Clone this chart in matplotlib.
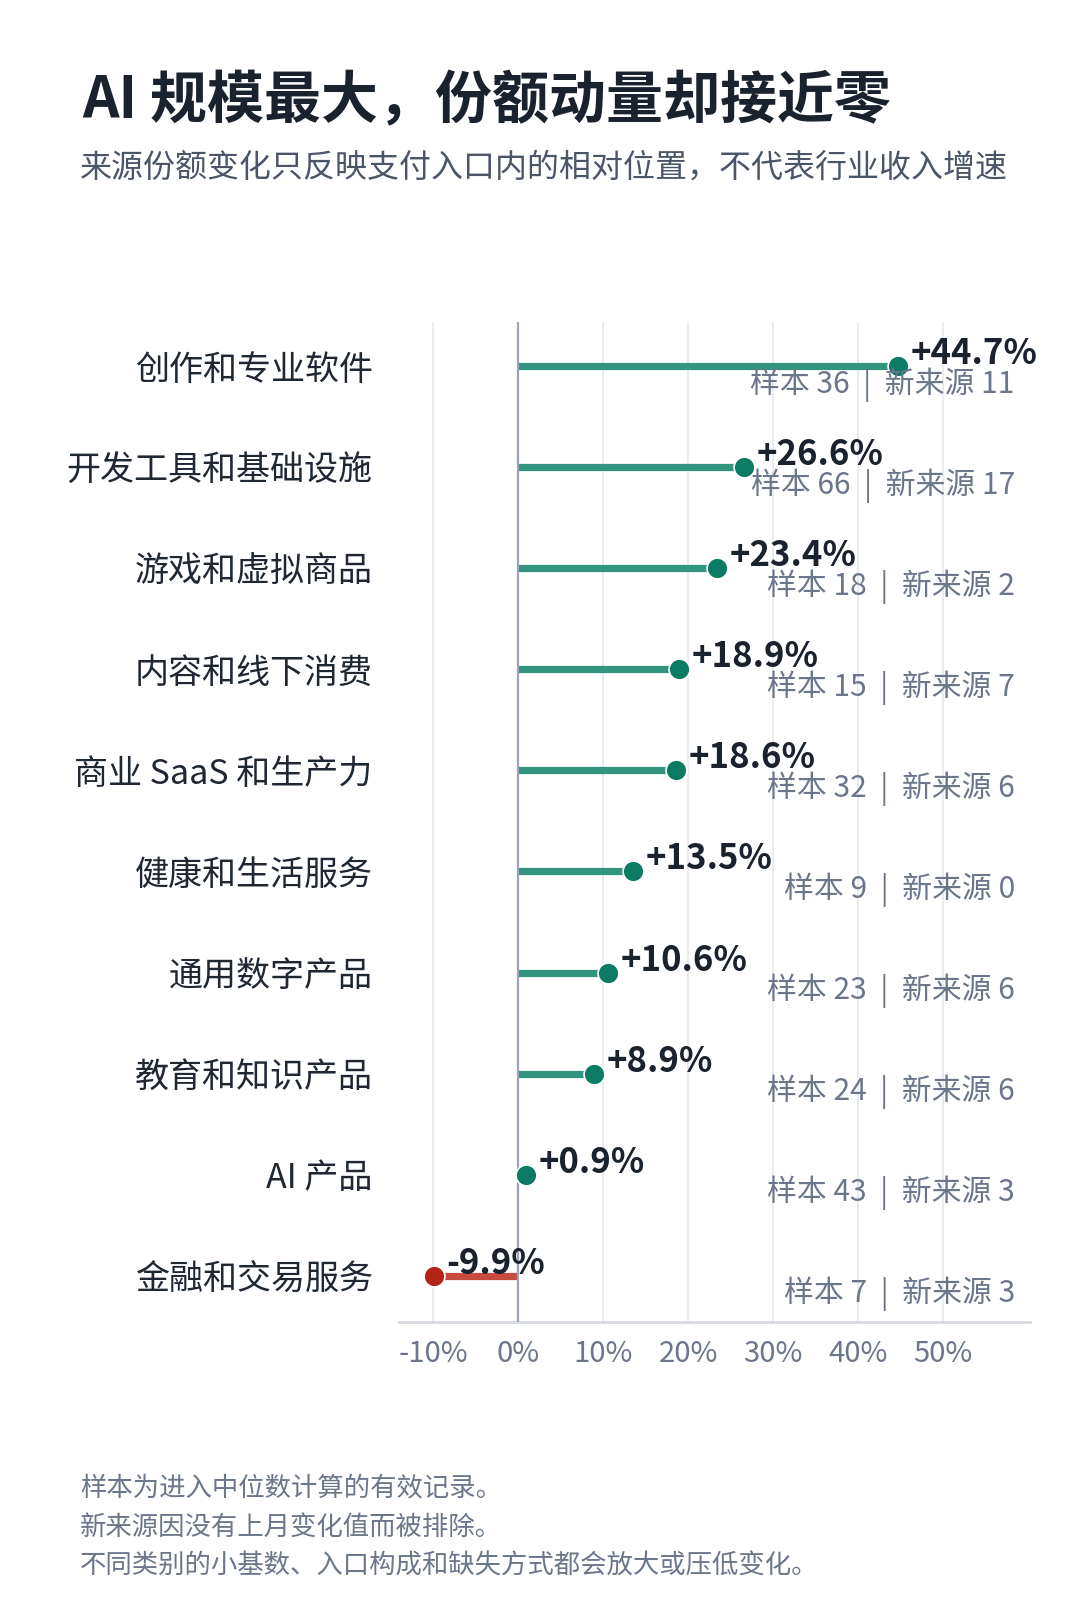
import numpy as np
import matplotlib
matplotlib.use("Agg")
import matplotlib.pyplot as plt
import matplotlib.transforms as mtransforms

plt.rcParams['font.family'] = ['Noto Sans CJK SC', 'DejaVu Sans']

# data ##################################################################
categories = ["创作和专业软件", "开发工具和基础设施", "游戏和虚拟商品", "内容和线下消费",
              "商业 SaaS 和生产力", "健康和生活服务", "通用数字产品", "教育和知识产品",
              "AI 产品", "金融和交易服务"]
share_change = [44.7, 26.6, 23.4, 18.9, 18.6, 13.5, 10.6, 8.9, 0.9, -9.9]
samples = [36, 66, 18, 15, 32, 9, 23, 24, 43, 7]
new_sources = [11, 17, 2, 7, 6, 0, 6, 6, 3, 3]
x_ticks = [-10, 0, 10, 20, 30, 40, 50]

title = "AI 规模最大，份额动量却接近零"
subtitle = "来源份额变化只反映支付入口内的相对位置，不代表行业收入增速"
notes = ["样本为进入中位数计算的有效记录。",
         "新来源因没有上月变化值而被排除。",
         "不同类别的小基数、入口构成和缺失方式都会放大或压低变化。"]

# colours
POS_DOT, POS_BAR = "#0b7b64", "#33957f"
NEG_DOT, NEG_BAR = "#b42318", "#c94a3e"
DARK = "#1a222d"
GREY = "#6b768a"

# figure ################################################################
fig = plt.figure(figsize=(10.8, 16.12), dpi=100)
ax = fig.add_axes([399/1080, 1 - 1322/1612, 631/1080, 1000/1612])

y = np.arange(len(categories))
ax.set_xlim(-14.0, 60.2)
ax.set_ylim(9.46, -0.44)

# grid
for t in x_ticks:
    if t == 0:
        ax.axvline(t, color="#9aa4b6", lw=1.6, zorder=3)
    else:
        ax.axvline(t, color="#e6e8ee", lw=1.2, zorder=1)

for yi, v in zip(y, share_change):
    bar_c = POS_BAR if v >= 0 else NEG_BAR
    dot_c = POS_DOT if v >= 0 else NEG_DOT
    ax.hlines(yi, 0, v, color=bar_c, lw=5.2, zorder=2)
    ax.plot(v, yi, "o", ms=15, color=dot_c, mec="white", mew=1.2, zorder=4)
    ax.annotate(f"{v:+.1f}%", (v, yi), xytext=(9, 9), textcoords="offset points",
                ha="left", va="center", fontsize=25, fontweight="bold", color=DARK, zorder=5)

trans = mtransforms.blended_transform_factory(ax.transAxes, ax.transData)
for yi, s, n in zip(y, samples, new_sources):
    ax.annotate(f"样本 {s}  |  新来源 {n}", (0.976, yi), xycoords=trans,
                xytext=(0, -13), textcoords="offset points",
                ha="right", va="center", fontsize=21.5, color=GREY, zorder=5)

ax.set_yticks(y)
ax.set_yticklabels(categories, fontsize=24.5, color="#1f2733")
ax.set_xticks(x_ticks)
ax.set_xticklabels([f"{t}%" for t in x_ticks], fontsize=21, color=GREY)
ax.tick_params(axis="y", length=0, pad=19)
ax.tick_params(axis="x", length=0, pad=12)

for side in ["top", "right", "left"]:
    ax.spines[side].set_visible(False)
ax.spines["bottom"].set_color("#d5d9e0")
ax.spines["bottom"].set_linewidth(2)

# titles and notes
fig.text(82/1080, 1 - 101/1612, title, fontsize=41, fontweight="bold", color=DARK,
         ha="left", va="center")
fig.text(80/1080, 1 - 168/1612, subtitle, fontsize=23, color="#4a5568",
         ha="left", va="center")
for i, line in enumerate(notes):
    fig.text(80/1080, 1 - (1488 + 39*i)/1612, line, fontsize=19, color=GREY,
             ha="left", va="center")

fig.savefig("out.png", dpi=100)
